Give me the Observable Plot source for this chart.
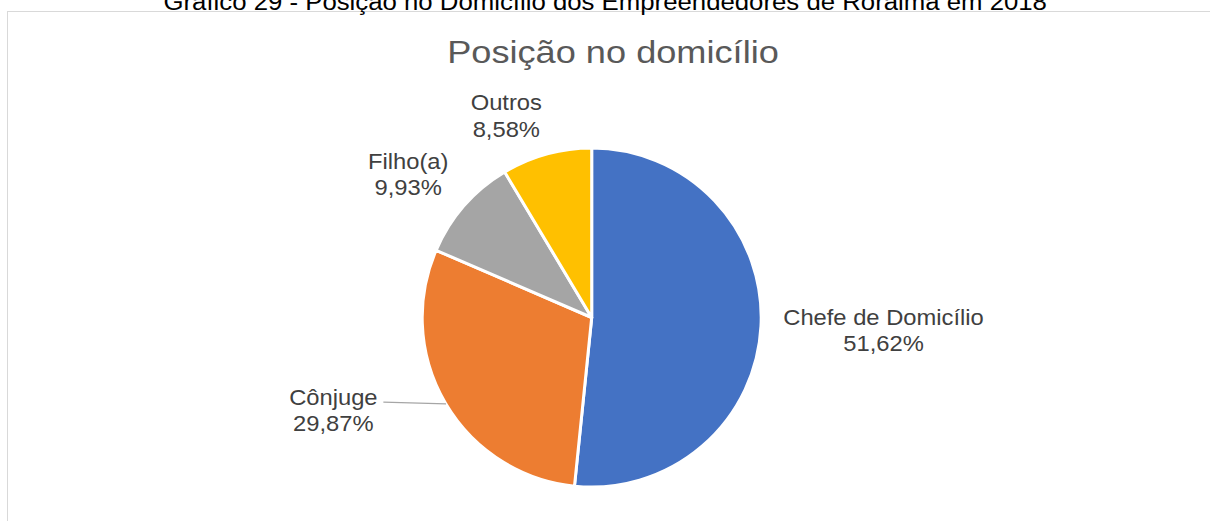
<!DOCTYPE html>
<html>
<head>
<meta charset="utf-8">
<script src="https://cdn.jsdelivr.net/npm/d3@7"></script>
<script src="https://cdn.jsdelivr.net/npm/@observablehq/plot@0.6"></script>
<style>
  html, body { margin: 0; padding: 0; background: #fff; }
  #wrap { position: relative; width: 1210px; height: 521px; overflow: hidden; background: #fff;
          font-family: "Liberation Sans", Arial, sans-serif; }
  #caption { position: absolute; left: 0; top: -8.5px; width: 1210px; text-align: center;
             font-size: 23px; line-height: 20px; color: #000; white-space: nowrap;
             transform: scaleX(1.12); transform-origin: 603px 0; }
  #frame { position: absolute; left: 7px; top: 11px; width: 1300px; height: 600px;
           border: 1px solid #d9d9d9; }
  #title { position: absolute; left: 0; top: 36px; width: 1226px; text-align: center;
           font-size: 32px; line-height: 32px; color: #595959; white-space: nowrap;
           transform: scaleX(1.13); transform-origin: 613px 0; }
  #chart { position: absolute; left: 0; top: 0; }
</style>
</head>
<body>
<div id="wrap">
  <div id="frame"></div>
  <div id="caption">Gráfico 29 - Posição no Domicílio dos Empreendedores de Roraima em 2018</div>
  <div id="title">Posição no domicílio</div>
  <div id="chart"></div>
</div>
<script>
// ---- data ----
const categories = ["Chefe de Domicílio", "Cônjuge", "Filho(a)", "Outros"];
const shares = [51.62, 29.87, 9.93, 8.58];

// ---- layout / style ----
const W = 1210, H = 521;
const pieGeom = {cx: 591.7, cy: 317.5, r: 169.5};
const palette = ["#4472C4", "#ED7D31", "#A5A5A5", "#FFC000"];
const labelLayout = {
  "Chefe de Domicílio": {rf: 1.72, shift: -0.6},
  "Cônjuge": {rf: 1.62, shift: 10.9, leader: {dx: 50, dy: -7.5}},
  "Filho(a)": {rf: 1.38, shift: -3.1},
  "Outros": {rf: 1.30, shift: -7.5}
};

const ptBR = d3.formatLocale({decimal: ",", thousands: ".", grouping: [3], currency: ["R$", ""]});
const fmt = ptBR.format(".2f");

const table = categories.map((c, i) => ({category: c, share: shares[i]}));
const arcs = d3.pie().sort(null).value(d => d.share)(table);
const color = Plot.scale({color: {type: "ordinal", domain: categories, range: palette}});

const labels = arcs.map(a => {
  const L = labelLayout[a.data.category];
  const mid = (a.startAngle + a.endAngle) / 2;
  const ang = mid + L.shift * Math.PI / 180;
  return {
    category: a.data.category,
    text: `${a.data.category}\n${fmt(a.data.share)}%`,
    x: L.rf * Math.sin(ang),
    y: L.rf * Math.cos(ang),
    mid
  };
});
const leaders = labels.filter(d => labelLayout[d.category].leader).map(d => {
  const ld = labelLayout[d.category].leader;
  return {
    x1: Math.sin(d.mid), y1: Math.cos(d.mid),
    x2: d.x + ld.dx / pieGeom.r, y2: d.y - ld.dy / pieGeom.r
  };
});

function slicesMark(index, scales) {
  const x0 = scales.x(0), y0 = scales.y(0), rad = scales.x(1) - x0;
  const arc = d3.arc().innerRadius(0).outerRadius(rad);
  const g = d3.create("svg:g").attr("aria-label", "pie").attr("transform", `translate(${x0},${y0})`);
  g.selectAll("path").data(arcs).join("path")
    .attr("d", arc)
    .attr("fill", d => color.apply(d.data.category))
    .attr("stroke", "#fff")
    .attr("stroke-width", 3)
    .attr("stroke-linejoin", "round");
  return g.node();
}

const chart = Plot.plot({
  width: W, height: H, margin: 0,
  x: {type: "linear", domain: [-pieGeom.cx / pieGeom.r, (W - pieGeom.cx) / pieGeom.r], range: [0, W], axis: null},
  y: {type: "linear", domain: [-(H - pieGeom.cy) / pieGeom.r, pieGeom.cy / pieGeom.r], range: [H, 0], axis: null},
  style: {background: "transparent", overflow: "visible", fontFamily: "'Liberation Sans', Arial, sans-serif"},
  marks: [
    slicesMark,
    Plot.link(leaders, {x1: "x1", y1: "y1", x2: "x2", y2: "y2", stroke: "#A6A6A6", strokeWidth: 1.2}),
    Plot.text(labels, {x: "x", y: "y", text: "text", fill: "#404040", fontSize: 22, lineHeight: 1.2,
                       textAnchor: "middle", lineAnchor: "middle"})
  ]
});
chart.querySelectorAll('g[aria-label="text"] text').forEach(t => {
  const tr = t.getAttribute("transform");
  if (tr) t.setAttribute("transform", tr + " scale(1.08,1)");
});
document.getElementById("chart").appendChild(chart);
</script>
</body>
</html>
